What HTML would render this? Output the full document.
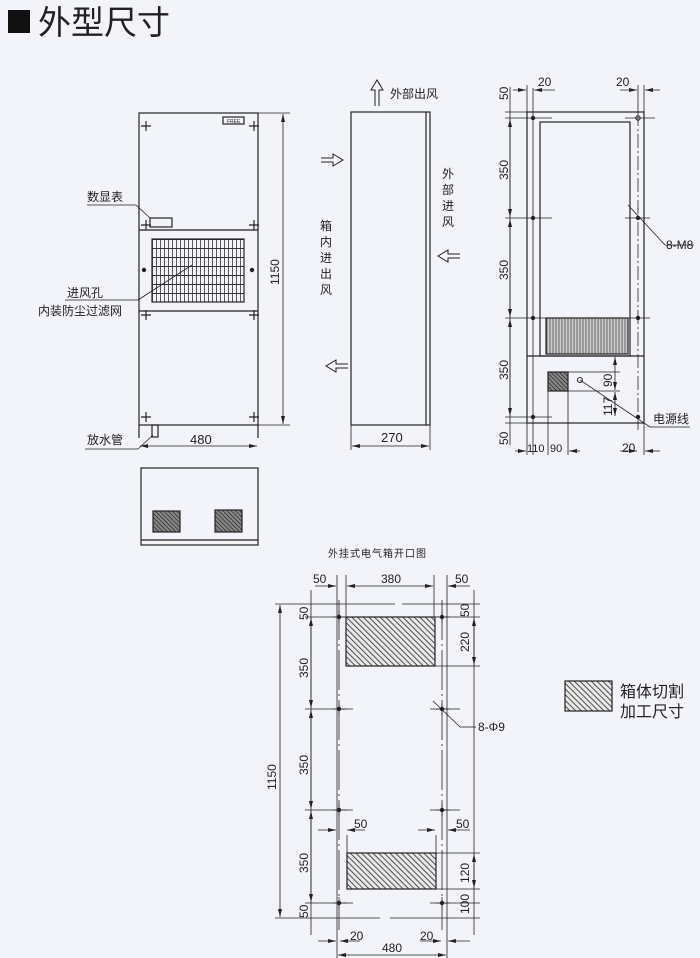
<!DOCTYPE html>
<html><head><meta charset="utf-8"><style>
html,body{margin:0;padding:0;background:#f3f4f9;}
svg{display:block}
text{font-family:"Liberation Sans","Noto Sans CJK SC",sans-serif;fill:#222}
</style></head><body>
<svg width="700" height="958" viewBox="0 0 700 958" xmlns="http://www.w3.org/2000/svg">
<defs>
<pattern id="h" width="4" height="4" patternUnits="userSpaceOnUse" patternTransform="rotate(-45)">
<rect width="4" height="4" fill="#e8e8e8"/><line x1="0" y1="0" x2="0" y2="4" stroke="#333" stroke-width="1.7"/></pattern>
<pattern id="hd" width="3" height="3" patternUnits="userSpaceOnUse" patternTransform="rotate(-45)">
<rect width="3" height="3" fill="#888"/><line x1="0" y1="0" x2="0" y2="3" stroke="#222" stroke-width="1.4"/></pattern>
<pattern id="v" width="3" height="3" patternUnits="userSpaceOnUse">
<rect width="3" height="3" fill="#ccc"/><line x1="1" y1="0" x2="1" y2="3" stroke="#666" stroke-width="1"/></pattern>
<pattern id="g" width="4" height="9" patternUnits="userSpaceOnUse" x="152" y="239">
<line x1="0.5" y1="0" x2="0.5" y2="9" stroke="#333" stroke-width="0.8"/><line x1="0" y1="0.5" x2="4" y2="0.5" stroke="#333" stroke-width="1"/></pattern>
<marker id="a" markerWidth="8" markerHeight="6" refX="8" refY="3" orient="auto-start-reverse" markerUnits="userSpaceOnUse"><path d="M0,1 L8,3 L0,5z" fill="#222"/></marker>
</defs>
<rect x="8" y="10" width="22" height="23" fill="#111"/>
<text x="38" y="34" font-size="33">外型尺寸</text>

<g stroke="#222" fill="none" stroke-width="1.2">
<rect x="139" y="113" width="119" height="312"/>
<line x1="139" y1="230" x2="258" y2="230"/>
<line x1="139" y1="311" x2="258" y2="311"/>
<line x1="139" y1="425" x2="139" y2="438"/><line x1="258" y1="425" x2="258" y2="438"/>
<rect x="152" y="239" width="92" height="63" fill="url(#g)"/>
<rect x="150" y="218" width="22" height="9"/>
<rect x="223" y="117" width="21" height="7"/>
<rect x="152" y="425" width="6" height="12"/>
<line x1="258" y1="113" x2="290" y2="113" stroke-width="0.8"/>
<line x1="258" y1="425" x2="290" y2="425" stroke-width="0.8"/>
<line x1="283" y1="114" x2="283" y2="424" stroke-width="0.8" marker-start="url(#a)" marker-end="url(#a)"/>
<line x1="140" y1="446" x2="257" y2="446" stroke-width="0.8" marker-start="url(#a)" marker-end="url(#a)"/>
<line x1="87" y1="205" x2="136" y2="205" stroke-width="0.8"/><line x1="136" y1="205" x2="150" y2="218" stroke-width="0.8"/>
<line x1="65" y1="300" x2="138" y2="300" stroke-width="0.8"/><line x1="138" y1="300" x2="192" y2="265" stroke-width="0.8"/>
<line x1="85" y1="449" x2="138" y2="449" stroke-width="0.8"/><line x1="138" y1="449" x2="153" y2="435" stroke-width="0.8"/>
</g>
<g stroke="#222" stroke-width="1.2" fill="#222">
<path d="M141 126h10M146 121v10M141 225h10M146 220v10M141 315h10M146 310v10M141 417h10M146 412v10"/>
<path d="M249 126h10M254 121v10M249 225h10M254 220v10M249 315h10M254 310v10M249 417h10M254 412v10"/>
<circle cx="144" cy="270" r="1.6"/><circle cx="252" cy="270" r="1.6"/>
</g>
<text x="227" y="123" font-size="5">FREE</text>
<text x="87" y="201" font-size="12">数显表</text>
<text x="67" y="297" font-size="12">进风孔</text>
<text x="38" y="315" font-size="12">内装防尘过滤网</text>
<text x="87" y="444" font-size="12">放水管</text>
<text x="190" y="444" font-size="13">480</text>
<text x="279" y="285" font-size="12" transform="rotate(-90 279 285)">1150</text>

<g stroke="#222" fill="none" stroke-width="1.2">
<rect x="141" y="468" width="117" height="77"/>
<line x1="141" y1="540" x2="258" y2="540"/>
<rect x="153" y="511" width="27" height="21" fill="url(#hd)"/>
<rect x="215" y="510" width="27" height="22" fill="url(#hd)"/>
</g>

<g stroke="#222" fill="none" stroke-width="1.2">
<rect x="351" y="112" width="79" height="313"/>
<line x1="426" y1="112" x2="426" y2="425"/>
<line x1="351" y1="425" x2="351" y2="450" stroke-width="0.8"/><line x1="430" y1="425" x2="430" y2="450" stroke-width="0.8"/>
<line x1="352" y1="446" x2="429" y2="446" stroke-width="0.8" marker-start="url(#a)" marker-end="url(#a)"/>
<path d="M375 106V90h-4l6-10 6 10h-4v16" stroke-width="1"/>
<path d="M321 158h12v-4l10 6-10 6v-4h-12" stroke-width="1"/>
<path d="M460 254h-12v-4l-10 6 10 6v-4h12" stroke-width="1"/>
<path d="M348 364h-12v-4l-10 6 10 6v-4h12" stroke-width="1"/>
</g>
<text x="390" y="98" font-size="12">外部出风</text>
<g font-size="12"><text x="442" y="178">外</text><text x="442" y="194">部</text><text x="442" y="210">进</text><text x="442" y="226">风</text>
<text x="320" y="230">箱</text><text x="320" y="246">内</text><text x="320" y="262">进</text><text x="320" y="278">出</text><text x="320" y="294">风</text></g>
<text x="381" y="442" font-size="13">270</text>

<g stroke="#222" fill="none" stroke-width="1.2">
<rect x="527" y="112" width="117" height="311"/>
<rect x="540" y="122" width="90" height="234"/>
<line x1="527" y1="356" x2="644" y2="356"/>
<rect x="546" y="318" width="82" height="36" fill="url(#v)"/>
<rect x="548" y="372" width="20" height="19" fill="url(#hd)"/>
<line x1="568" y1="372" x2="568" y2="455" stroke-width="0.8"/>
<line x1="548" y1="391" x2="548" y2="455" stroke-width="0.8"/>
<line x1="568" y1="372" x2="620" y2="372" stroke-width="0.8"/>
<line x1="568" y1="391" x2="620" y2="391" stroke-width="0.8"/>
<circle cx="580" cy="380" r="2.5" stroke-width="1"/>
<line x1="580" y1="380" x2="650" y2="427" stroke-width="0.8"/><line x1="650" y1="427" x2="690" y2="427" stroke-width="0.8"/>
<line x1="628" y1="205" x2="665" y2="245" stroke-width="0.8"/><line x1="665" y1="245" x2="694" y2="245" stroke-width="0.8"/>
<line x1="638" y1="112" x2="638" y2="430" stroke-dasharray="14 3 2 3" stroke-width="0.8"/>
<line x1="533" y1="88" x2="533" y2="455" stroke-width="0.8"/>
<line x1="527" y1="85" x2="527" y2="455" stroke-width="0.8"/>
<line x1="644" y1="85" x2="644" y2="455" stroke-width="0.8"/>
<line x1="638" y1="85" x2="638" y2="112" stroke-width="0.8"/>
<line x1="510" y1="87" x2="510" y2="445" stroke-width="0.8"/>
<line x1="505" y1="112" x2="527" y2="112" stroke-width="0.8"/>
<line x1="505" y1="118" x2="552" y2="118" stroke-width="0.8"/>
<line x1="505" y1="218" x2="552" y2="218" stroke-width="0.8"/>
<line x1="505" y1="318" x2="552" y2="318" stroke-width="0.8"/>
<line x1="505" y1="417" x2="552" y2="417" stroke-width="0.8"/>
<line x1="505" y1="423" x2="527" y2="423" stroke-width="0.8"/>
<line x1="625" y1="118" x2="655" y2="118" stroke-width="0.8"/>
<line x1="625" y1="218" x2="650" y2="218" stroke-width="0.8"/>
<line x1="625" y1="318" x2="650" y2="318" stroke-width="0.8"/>
<line x1="610" y1="356" x2="620" y2="356" stroke-width="0.8"/>
<line x1="615" y1="357" x2="615" y2="390" stroke-width="0.8" marker-start="url(#a)" marker-end="url(#a)"/>
<line x1="615" y1="392" x2="615" y2="416" stroke-width="0.8" marker-start="url(#a)" marker-end="url(#a)"/>
<line x1="510" y1="119" x2="510" y2="217" stroke-width="0.8" marker-start="url(#a)" marker-end="url(#a)"/>
<line x1="510" y1="219" x2="510" y2="317" stroke-width="0.8" marker-start="url(#a)" marker-end="url(#a)"/>
<line x1="510" y1="319" x2="510" y2="416" stroke-width="0.8" marker-start="url(#a)" marker-end="url(#a)"/>
<line x1="513" y1="90" x2="526" y2="90" stroke-width="0.8" marker-end="url(#a)"/>
<line x1="555" y1="90" x2="534" y2="90" stroke-width="0.8" marker-end="url(#a)"/>
<line x1="620" y1="90" x2="637" y2="90" stroke-width="0.8" marker-end="url(#a)"/>
<line x1="660" y1="90" x2="645" y2="90" stroke-width="0.8" marker-end="url(#a)"/>
<line x1="515" y1="451" x2="526" y2="451" stroke-width="0.8" marker-end="url(#a)"/>
<line x1="580" y1="451" x2="569" y2="451" stroke-width="0.8" marker-end="url(#a)"/>
<line x1="620" y1="451" x2="637" y2="451" stroke-width="0.8" marker-end="url(#a)"/>
<line x1="660" y1="451" x2="645" y2="451" stroke-width="0.8" marker-end="url(#a)"/>
</g>
<g fill="#222"><circle cx="533" cy="118" r="2.2"/><circle cx="638" cy="118" r="2.2" fill="none" stroke="#222"/><circle cx="533" cy="218" r="2.2"/><circle cx="638" cy="218" r="2.2"/><circle cx="533" cy="318" r="2.2"/><circle cx="638" cy="318" r="2.2"/><circle cx="533" cy="417" r="2.2"/><circle cx="638" cy="417" r="2.2"/></g>
<g font-size="12">
<text x="538" y="86">20</text><text x="616" y="86">20</text>
<text x="527" y="452" font-size="11">110</text><text x="550" y="452" font-size="11">90</text><text x="622" y="452">20</text>
<text x="666" y="249">8-M8</text><text x="653" y="423">电源线</text>
<text transform="translate(508,100) rotate(-90)">50</text>
<text transform="translate(508,180) rotate(-90)">350</text>
<text transform="translate(508,280) rotate(-90)">350</text>
<text transform="translate(508,380) rotate(-90)">350</text>
<text transform="translate(508,445) rotate(-90)">50</text>
<text transform="translate(612,387) rotate(-90)">90</text>
<text transform="translate(612,416) rotate(-90)">117</text>
</g>

<text x="328" y="557" font-size="10" letter-spacing="1">外挂式电气箱开口图</text>
<g stroke="#222" fill="none" stroke-width="0.8">
<rect x="346" y="617" width="89" height="49" fill="url(#h)" stroke-width="1.2"/>
<rect x="347" y="853" width="89" height="36" fill="url(#h)" stroke-width="1.2"/>
<line x1="339" y1="600" x2="339" y2="930" stroke-dasharray="40 4 2 4"/>
<line x1="442" y1="600" x2="442" y2="930" stroke-dasharray="40 4 2 4"/>
<line x1="337" y1="575" x2="337" y2="958"/>
<line x1="346" y1="575" x2="346" y2="617"/>
<line x1="434" y1="575" x2="434" y2="617"/>
<line x1="447" y1="575" x2="447" y2="958"/>
<line x1="275" y1="604" x2="395" y2="604"/><line x1="402" y1="604" x2="480" y2="604"/>
<line x1="275" y1="918" x2="380" y2="918"/><line x1="390" y1="918" x2="480" y2="918"/>
<line x1="305" y1="617" x2="480" y2="617"/>
<line x1="435" y1="666" x2="480" y2="666"/>
<line x1="305" y1="709" x2="353" y2="709"/><line x1="430" y1="709" x2="460" y2="709"/>
<line x1="305" y1="810" x2="353" y2="810"/><line x1="430" y1="810" x2="460" y2="810"/>
<line x1="436" y1="853" x2="480" y2="853"/><line x1="436" y1="889" x2="480" y2="889"/>
<line x1="305" y1="903" x2="353" y2="903"/><line x1="430" y1="903" x2="480" y2="903"/>
<line x1="347" y1="835" x2="347" y2="853"/><line x1="436" y1="835" x2="436" y2="853"/>
<line x1="280" y1="605" x2="280" y2="917" marker-start="url(#a)" marker-end="url(#a)"/>
<line x1="311" y1="590" x2="311" y2="935"/>
<line x1="311" y1="618" x2="311" y2="708" marker-start="url(#a)" marker-end="url(#a)"/>
<line x1="311" y1="710" x2="311" y2="809" marker-start="url(#a)" marker-end="url(#a)"/>
<line x1="311" y1="811" x2="311" y2="902" marker-start="url(#a)" marker-end="url(#a)"/>
<line x1="474" y1="590" x2="474" y2="935"/>
<line x1="474" y1="618" x2="474" y2="665" marker-start="url(#a)" marker-end="url(#a)"/>
<line x1="474" y1="854" x2="474" y2="888" marker-start="url(#a)" marker-end="url(#a)"/>
<line x1="347" y1="586" x2="433" y2="586" marker-start="url(#a)" marker-end="url(#a)"/>
<line x1="315" y1="586" x2="336" y2="586" marker-end="url(#a)"/>
<line x1="470" y1="586" x2="448" y2="586" marker-end="url(#a)"/>
<line x1="318" y1="830" x2="336" y2="830" marker-end="url(#a)"/>
<line x1="365" y1="830" x2="347" y2="830" marker-end="url(#a)"/>
<line x1="418" y1="830" x2="435" y2="830" marker-end="url(#a)"/>
<line x1="470" y1="830" x2="448" y2="830" marker-end="url(#a)"/>
<line x1="318" y1="941" x2="336" y2="941" marker-end="url(#a)"/>
<line x1="360" y1="941" x2="340" y2="941" marker-end="url(#a)"/>
<line x1="420" y1="941" x2="441" y2="941" marker-end="url(#a)"/>
<line x1="470" y1="941" x2="448" y2="941" marker-end="url(#a)"/>
<line x1="338" y1="955" x2="446" y2="955" marker-start="url(#a)" marker-end="url(#a)"/>
<line x1="433" y1="701" x2="460" y2="727"/><line x1="460" y1="727" x2="476" y2="727"/>
<path d="M333 617h14M339 611v12M333 709h14M339 703v12M333 810h14M339 804v12M333 903h14M339 897v12M436 617h14M442 611v12M436 709h14M442 703v12M436 810h14M442 804v12M436 903h14M442 897v12"/>
</g>
<g fill="#222"><circle cx="339" cy="617" r="2.2"/><circle cx="339" cy="709" r="2.2"/><circle cx="339" cy="810" r="2.2"/><circle cx="339" cy="903" r="2.2"/><circle cx="442" cy="617" r="2.2"/><circle cx="442" cy="709" r="2.2"/><circle cx="442" cy="810" r="2.2"/><circle cx="442" cy="903" r="2.2"/></g>
<g font-size="12">
<text x="313" y="583">50</text><text x="381" y="583">380</text><text x="455" y="583">50</text>
<text x="354" y="828">50</text><text x="456" y="828">50</text>
<text x="350" y="940">20</text><text x="420" y="940">20</text><text x="382" y="952">480</text>
<text x="478" y="731">8-Φ9</text>
<text transform="translate(276,790) rotate(-90)">1150</text>
<text transform="translate(308,620) rotate(-90)">50</text>
<text transform="translate(308,678) rotate(-90)">350</text>
<text transform="translate(308,775) rotate(-90)">350</text>
<text transform="translate(308,873) rotate(-90)">350</text>
<text transform="translate(308,918) rotate(-90)">50</text>
<text transform="translate(469,617) rotate(-90)">50</text>
<text transform="translate(469,652) rotate(-90)">220</text>
<text transform="translate(469,883) rotate(-90)">120</text>
<text transform="translate(469,914) rotate(-90)">100</text>
</g>

<rect x="565" y="681" width="47" height="30" fill="url(#h)" stroke="#222" stroke-width="1.2"/>
<text x="620" y="697" font-size="16">箱体切割</text>
<text x="620" y="717" font-size="16">加工尺寸</text>
</svg>
</body></html>
